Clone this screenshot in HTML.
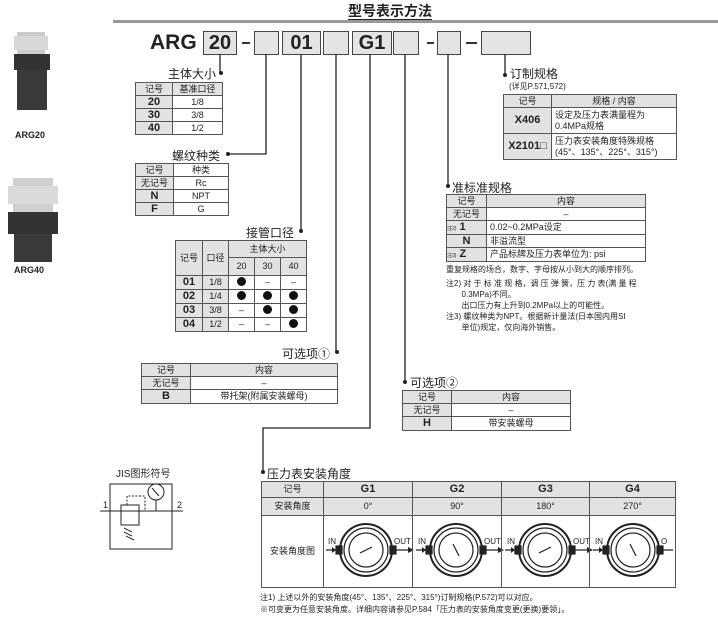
<!DOCTYPE html>
<html><head><meta charset="utf-8">
<style>
body{margin:0;background:#fff;width:718px;height:619px;position:relative;overflow:hidden;font-family:"Liberation Sans","Noto Sans CJK SC",sans-serif;color:#222}
.a{position:absolute;white-space:nowrap}
table{position:absolute;border-collapse:collapse;font-size:9px;text-align:center;table-layout:fixed;border:1.5px solid #333}
td{border:1px solid #555;padding:0;line-height:1;overflow:hidden}
.h td{background:#e2e2e2}
.g{background:#e2e2e2}
.b{font-weight:bold;font-size:11px}
.lab{font-size:12px}
.box{position:absolute;top:31px;height:22px;border:1.5px solid #444;background:#e4e4e4;font-weight:bold;font-size:20px;text-align:center;line-height:22px}
.dot{display:inline-block;width:9px;height:9px;border-radius:50%;background:#111}
.l{text-align:left;padding-left:3px}
</style></head><body>
<div class="a" style="left:348px;top:3px;font-size:14px;font-weight:bold;border-bottom:2px solid #222;line-height:16px">型号表示方法</div>
<div class="a" style="left:113px;top:20px;width:605px;height:3px;background:#999"></div>

<div class="a" style="left:150px;top:31px;font-size:21px;font-weight:bold;line-height:24px">ARG</div>
<div class="box" style="left:203px;width:32px">20</div>
<div class="a" style="left:242px;top:42px;width:8px;height:2px;background:#333"></div>
<div class="box" style="left:254px;width:23px"></div>
<div class="box" style="left:282px;width:37px">01</div>
<div class="box" style="left:323px;width:24px"></div>
<div class="box" style="left:352px;width:38px">G1</div>
<div class="box" style="left:393px;width:24px"></div>
<div class="a" style="left:427px;top:42px;width:7px;height:2px;background:#333"></div>
<div class="box" style="left:437px;width:22px"></div>
<div class="a" style="left:466px;top:42px;width:11px;height:2px;background:#333"></div>
<div class="box" style="left:481px;width:48px"></div>

<svg class="a" style="left:0;top:0" width="718" height="619">
<g stroke="#222" stroke-width="1.3" fill="none">
<path d="M220 54V73"/><path d="M266 54V154H228"/><path d="M301 54V231"/><path d="M336 54V352"/>
<path d="M370 54V428H263V472"/><path d="M405 54V382"/><path d="M448 54V186"/><path d="M505 54V75"/>
</g>
<g fill="#222"><circle cx="221" cy="73" r="2"/><circle cx="228" cy="154" r="2"/><circle cx="301" cy="231" r="2"/><circle cx="337" cy="352" r="2"/><circle cx="263" cy="472" r="2"/><circle cx="405" cy="382" r="2"/><circle cx="448" cy="186" r="2"/><circle cx="505" cy="75" r="2"/></g>
<!-- products -->
<rect x="17" y="32" width="28" height="22" fill="#ccc"/><rect x="14" y="36" width="34" height="14" fill="#d8d8d8"/>
<rect x="14" y="54" width="36" height="16" fill="#333"/><rect x="17" y="70" width="30" height="40" fill="#3a3a3a"/>
<rect x="13" y="178" width="40" height="34" fill="#d0d0d0"/><rect x="8" y="186" width="50" height="18" fill="#dadada"/>
<rect x="8" y="212" width="50" height="22" fill="#333"/><rect x="14" y="234" width="38" height="28" fill="#3a3a3a"/>
<!-- JIS -->
<g stroke="#222" fill="none" stroke-width="1">
<rect x="110" y="484" width="62" height="65"/><path d="M100 511H183"/>
<rect x="121" y="505" width="18" height="20"/><path d="M127 505V496H145V511" stroke-dasharray="2 1.5"/>
<circle cx="156" cy="492" r="8"/><path d="M156 500V511"/><path d="M152 488L159 496"/>
<path d="M124 528L132 532M124 532L132 536M126 536L134 540"/>
</g>
<!-- gauges -->
<g stroke="#222" fill="none" stroke-width="1.2">
<g transform="translate(366,550)"><circle r="26" stroke-width="2"/><circle r="22"/><circle r="17"/><path d="M-40 0H-30M30 0H42"/><rect x="-30" y="-4" width="6" height="8" fill="#222"/><rect x="24" y="-4" width="6" height="8" fill="#222"/><path d="M-6 3L6 -3"/></g>
<g transform="translate(456,550)"><circle r="26" stroke-width="2"/><circle r="22"/><circle r="17"/><path d="M-40 0H-30M30 0H42"/><rect x="-30" y="-4" width="6" height="8" fill="#222"/><rect x="24" y="-4" width="6" height="8" fill="#222"/><path d="M-3 -6L3 6"/></g>
<g transform="translate(545,550)"><circle r="26" stroke-width="2"/><circle r="22"/><circle r="17"/><path d="M-40 0H-30M30 0H42"/><rect x="-30" y="-4" width="6" height="8" fill="#222"/><rect x="24" y="-4" width="6" height="8" fill="#222"/><path d="M-6 3L6 -3"/></g>
<g transform="translate(633,550)"><circle r="26" stroke-width="2"/><circle r="22"/><circle r="17"/><path d="M-40 0H-30M30 0H40"/><rect x="-30" y="-4" width="6" height="8" fill="#222"/><rect x="24" y="-4" width="6" height="8" fill="#222"/><path d="M-3 -6L3 6"/></g>
</g>
<g fill="#222"><path d="M408 547l6 3-6 3zM498 547l6 3-6 3zM587 547l6 3-6 3zM332 547l4 3-4 3zM422 547l4 3-4 3zM511 547l4 3-4 3zM599 547l4 3-4 3"/></g>
<g font-size="8" fill="#222" font-family="Liberation Sans"><text x="328" y="544">IN</text><text x="394" y="544">OUT</text><text x="418" y="544">IN</text><text x="484" y="544">OUT</text><text x="507" y="544">IN</text><text x="573" y="544">OUT</text><text x="595" y="544">IN</text><text x="661" y="544">O</text></g>
</svg>
<div class="a" style="left:15px;top:130px;font-size:9px;font-weight:bold">ARG20</div>
<div class="a" style="left:14px;top:265px;font-size:9px;font-weight:bold">ARG40</div>

<div class="a lab" style="left:168px;top:65px">主体大小</div>
<table style="left:135px;top:82px;width:88px">
<col style="width:37px"><col>
<tr class="h" style="height:13px"><td>记号</td><td>基准口径</td></tr>
<tr style="height:13px"><td class="g b">20</td><td>1/8</td></tr>
<tr style="height:13px"><td class="g b">30</td><td>3/8</td></tr>
<tr style="height:13px"><td class="g b">40</td><td>1/2</td></tr></table>

<div class="a lab" style="left:172px;top:147px">螺纹种类</div>
<table style="left:135px;top:163px;width:94px">
<col style="width:38px"><col>
<tr style="height:13px"><td class="g">记号</td><td>种类</td></tr>
<tr style="height:13px"><td class="g">无记号</td><td>Rc</td></tr>
<tr style="height:13px"><td class="g b">N</td><td>NPT</td></tr>
<tr style="height:13px"><td class="g b">F</td><td>G</td></tr></table>

<div class="a lab" style="left:246px;top:224px">接管口径</div>
<table style="left:175px;top:240px;width:132px">
<col style="width:27px"><col style="width:26px"><col style="width:26px"><col style="width:26px"><col>
<tr class="h" style="height:17px"><td rowspan="2">记号</td><td rowspan="2">口径</td><td colspan="3">主体大小</td></tr>
<tr class="h" style="height:18px"><td>20</td><td>30</td><td>40</td></tr>
<tr style="height:14px"><td class="g b">01</td><td class="g">1/8</td><td><span class="dot"></span></td><td>–</td><td>–</td></tr>
<tr style="height:14px"><td class="g b">02</td><td class="g">1/4</td><td><span class="dot"></span></td><td><span class="dot"></span></td><td><span class="dot"></span></td></tr>
<tr style="height:14px"><td class="g b">03</td><td class="g">3/8</td><td>–</td><td><span class="dot"></span></td><td><span class="dot"></span></td></tr>
<tr style="height:14px"><td class="g b">04</td><td class="g">1/2</td><td>–</td><td>–</td><td><span class="dot"></span></td></tr></table>

<div class="a lab" style="left:282px;top:345px">可选项①</div>
<table style="left:141px;top:363px;width:197px">
<col style="width:49px"><col>
<tr class="h" style="height:13px"><td>记号</td><td>内容</td></tr>
<tr style="height:13px"><td class="g">无记号</td><td>–</td></tr>
<tr style="height:14px"><td class="g b">B</td><td>带托架(附属安装螺母)</td></tr></table>

<div class="a lab" style="left:410px;top:374px">可选项②</div>
<table style="left:402px;top:390px;width:169px">
<col style="width:49px"><col>
<tr class="h" style="height:13px"><td>记号</td><td>内容</td></tr>
<tr style="height:13px"><td class="g">无记号</td><td>–</td></tr>
<tr style="height:14px"><td class="g b">H</td><td>带安装螺母</td></tr></table>

<div class="a lab" style="left:452px;top:179px">准标准规格</div>
<table style="left:446px;top:194px;width:200px">
<col style="width:40px"><col>
<tr class="h" style="height:13px"><td>记号</td><td>内容</td></tr>
<tr style="height:13px"><td class="g">无记号</td><td>–</td></tr>
<tr style="height:14px"><td class="g b" style="text-align:left"><span style="font-size:5px;font-weight:normal">注2)</span> 1</td><td class="l">0.02~0.2MPa设定</td></tr>
<tr style="height:13px"><td class="g b">N</td><td class="l">非溢流型</td></tr>
<tr style="height:14px"><td class="g b" style="text-align:left"><span style="font-size:5px;font-weight:normal">注3)</span> Z</td><td class="l">产品标牌及压力表单位为: psi</td></tr></table>
<div class="a" style="left:446px;top:264px;font-size:8px;line-height:12px">重复规格的场合，数字、字母按从小到大的顺序排列。</div>
<div class="a" style="left:446px;top:278px;font-size:8px;line-height:11px">注2) 对 于 标 准 规 格，调 压 弹 簧，压 力 表(满 量 程<br>&nbsp;&nbsp;&nbsp;&nbsp;&nbsp;&nbsp;&nbsp;0.3MPa)不同。<br>&nbsp;&nbsp;&nbsp;&nbsp;&nbsp;&nbsp;&nbsp;出口压力有上升到0.2MPa以上的可能性。<br>注3) 螺纹种类为NPT。根据新计量法(日本国内用SI<br>&nbsp;&nbsp;&nbsp;&nbsp;&nbsp;&nbsp;&nbsp;单位)规定，仅向海外销售。</div>

<div class="a lab" style="left:510px;top:65px">订制规格</div>
<div class="a" style="left:509px;top:81px;font-size:8px">(详见P.571,572)</div>
<table style="left:503px;top:94px;width:174px">
<col style="width:48px"><col>
<tr class="h" style="height:13px"><td>记号</td><td>规格 / 内容</td></tr>
<tr style="height:26px"><td class="g b">X406</td><td class="l" style="line-height:11px">设定及压力表满量程为<br>0.4MPa规格</td></tr>
<tr style="height:26px"><td class="g b">X2101□</td><td class="l" style="line-height:11px">压力表安装角度特殊规格<br>(45°、135°、225°、315°)</td></tr></table>

<div class="a lab" style="left:267px;top:465px">压力表安装角度</div>
<table style="left:261px;top:481px;width:415px">
<col style="width:62px"><col style="width:89px"><col style="width:89px"><col style="width:88px"><col>
<tr class="h" style="height:16px"><td>记号</td><td class="b">G1</td><td class="b">G2</td><td class="b">G3</td><td class="b">G4</td></tr>
<tr class="h" style="height:18px"><td>安装角度</td><td>0°</td><td>90°</td><td>180°</td><td>270°</td></tr>
<tr style="height:72px"><td>安装角度图</td><td></td><td></td><td></td><td></td></tr></table>
<div class="a" style="left:260px;top:592px;font-size:8px;line-height:12px">注1) 上述以外的安装角度(45°、135°、225°、315°)订制规格(P.572)可以对应。<br>※可变更为任意安装角度。详细内容请参见P.584「压力表的安装角度变更(更换)要领」。</div>

<div class="a" style="left:116px;top:465px;font-size:10px">JIS图形符号</div>
<div class="a" style="left:103px;top:500px;font-size:9px">1</div>
<div class="a" style="left:177px;top:500px;font-size:9px">2</div>
</body></html>
